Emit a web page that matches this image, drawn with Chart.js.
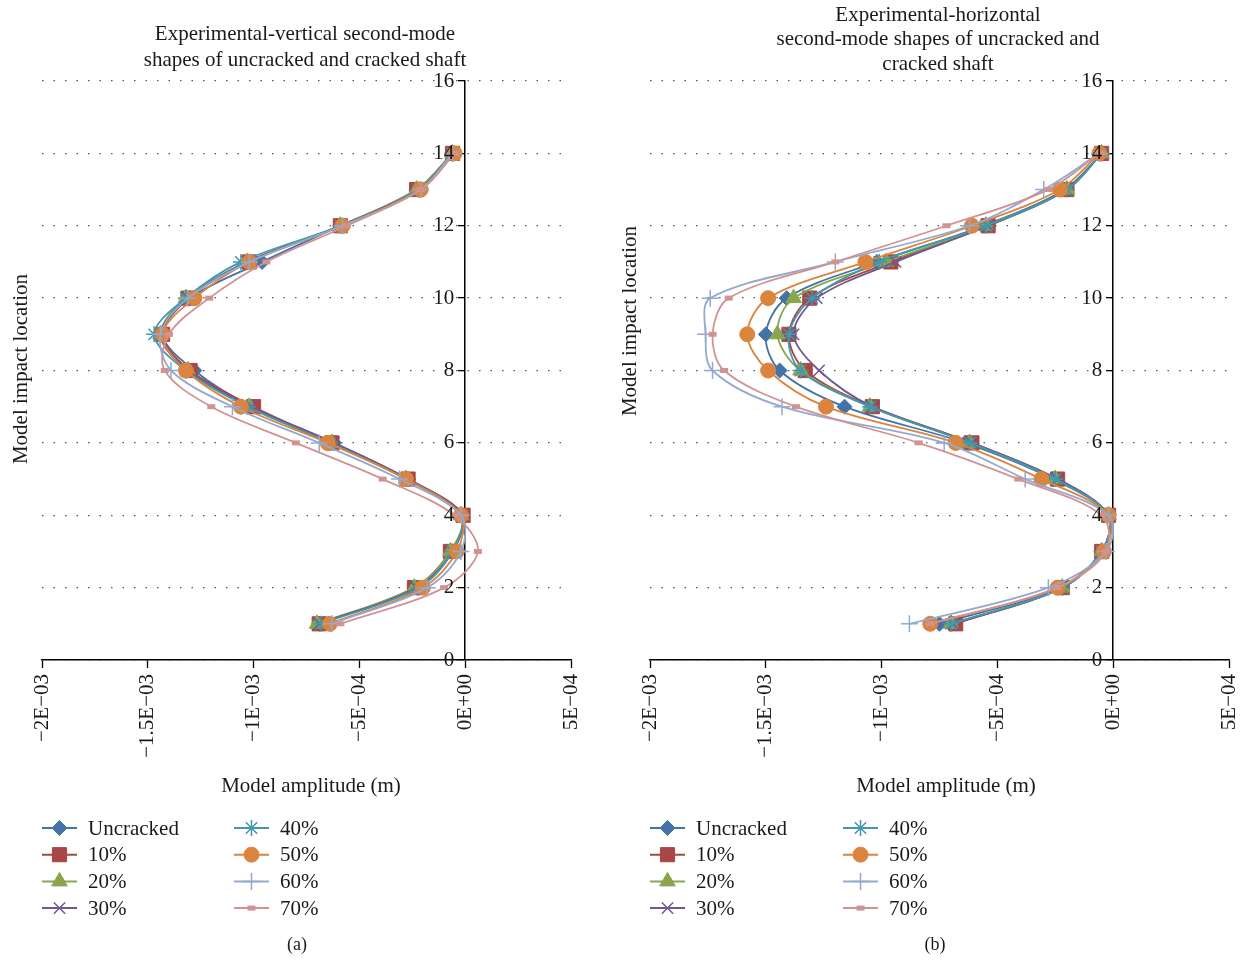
<!DOCTYPE html>
<html><head><meta charset="utf-8">
<script src="https://cdn.jsdelivr.net/npm/chart.js@4.4.1/dist/chart.umd.min.js"></script>
<style>
html,body{margin:0;padding:0;background:#fff;width:1240px;height:961px;overflow:hidden;}
#wrapA{position:absolute;left:0;top:0;width:610px;height:961px;}
#wrapB{position:absolute;left:610px;top:0;width:630px;height:961px;}
</style></head>
<body>
<div id="wrapA"><canvas id="cA"></canvas></div>
<div id="wrapB"><canvas id="cB"></canvas></div>
<script>
// ---- data ----
const locations = [1, 2, 3, 4, 5, 6, 7, 8, 9, 10, 11, 12, 13, 14];
const seriesNames = ['Uncracked', '10%', '20%', '30%', '40%', '50%', '60%', '70%'];
const xTickValues = [-2e-3, -1.5e-3, -1e-3, -5e-4, 0, 5e-4];
const xTickLabels = ['\u22122E\u221203', '\u22121.5E\u221203', '\u22121E\u221203', '\u22125E\u221204', '0E+00', '5E\u221204'];
const yTickValues = [0, 2, 4, 6, 8, 10, 12, 14, 16];
const yTickLabels = ['0', '2', '4', '6', '8', '10', '12', '14', '16'];

// (a) vertical, amplitude (m) at locations 1..14
const vUncracked = [-0.69e-3, -0.23e-3, -0.06e-3, -0.015e-3, -0.27e-3, -0.62e-3, -1.01e-3, -1.28e-3, -1.43e-3, -1.30e-3, -0.96e-3, -0.59e-3, -0.22e-3, -0.06e-3];
const v10 = [-0.69e-3, -0.24e-3, -0.07e-3, -0.01e-3, -0.27e-3, -0.63e-3, -1.00e-3, -1.30e-3, -1.43e-3, -1.31e-3, -1.02e-3, -0.59e-3, -0.23e-3, -0.06e-3];
const v20 = [-0.70e-3, -0.24e-3, -0.07e-3, -0.02e-3, -0.28e-3, -0.63e-3, -1.02e-3, -1.31e-3, -1.44e-3, -1.32e-3, -1.03e-3, -0.59e-3, -0.23e-3, -0.06e-3];
const v30 = [-0.69e-3, -0.23e-3, -0.06e-3, -0.02e-3, -0.27e-3, -0.62e-3, -1.01e-3, -1.31e-3, -1.44e-3, -1.31e-3, -1.03e-3, -0.59e-3, -0.22e-3, -0.06e-3];
const v40 = [-0.68e-3, -0.22e-3, -0.06e-3, -0.02e-3, -0.28e-3, -0.64e-3, -1.03e-3, -1.32e-3, -1.47e-3, -1.32e-3, -1.06e-3, -0.59e-3, -0.22e-3, -0.06e-3];
const v50 = [-0.64e-3, -0.20e-3, -0.04e-3, -0.02e-3, -0.28e-3, -0.65e-3, -1.06e-3, -1.32e-3, -1.43e-3, -1.28e-3, -1.02e-3, -0.58e-3, -0.21e-3, -0.05e-3];
const v60 = [-0.63e-3, -0.18e-3, -0.02e-3, -0.02e-3, -0.31e-3, -0.69e-3, -1.10e-3, -1.39e-3, -1.44e-3, -1.31e-3, -1.02e-3, -0.58e-3, -0.21e-3, -0.06e-3];
const v70 = [-0.59e-3, -0.10e-3, 0.06e-3, -0.05e-3, -0.39e-3, -0.80e-3, -1.20e-3, -1.42e-3, -1.40e-3, -1.21e-3, -0.94e-3, -0.56e-3, -0.21e-3, -0.05e-3];

// (b) horizontal
const hUncracked = [-0.75e-3, -0.23e-3, -0.05e-3, -0.02e-3, -0.26e-3, -0.64e-3, -1.16e-3, -1.44e-3, -1.50e-3, -1.41e-3, -1.02e-3, -0.56e-3, -0.21e-3, -0.05e-3];
const h10 = [-0.68e-3, -0.22e-3, -0.05e-3, -0.02e-3, -0.24e-3, -0.61e-3, -1.04e-3, -1.33e-3, -1.40e-3, -1.31e-3, -0.96e-3, -0.54e-3, -0.20e-3, -0.05e-3];
const h20 = [-0.70e-3, -0.22e-3, -0.05e-3, -0.02e-3, -0.25e-3, -0.62e-3, -1.05e-3, -1.35e-3, -1.45e-3, -1.38e-3, -0.98e-3, -0.55e-3, -0.20e-3, -0.05e-3];
const h30 = [-0.69e-3, -0.22e-3, -0.05e-3, -0.02e-3, -0.24e-3, -0.61e-3, -1.04e-3, -1.27e-3, -1.38e-3, -1.28e-3, -0.94e-3, -0.54e-3, -0.20e-3, -0.05e-3];
const h40 = [-0.70e-3, -0.22e-3, -0.05e-3, -0.02e-3, -0.25e-3, -0.62e-3, -1.05e-3, -1.35e-3, -1.40e-3, -1.30e-3, -1.01e-3, -0.55e-3, -0.20e-3, -0.05e-3];
const h50 = [-0.79e-3, -0.24e-3, -0.04e-3, -0.02e-3, -0.31e-3, -0.68e-3, -1.24e-3, -1.49e-3, -1.58e-3, -1.49e-3, -1.07e-3, -0.61e-3, -0.23e-3, -0.06e-3];
const h60 = [-0.88e-3, -0.28e-3, -0.03e-3, -0.02e-3, -0.38e-3, -0.73e-3, -1.43e-3, -1.73e-3, -1.76e-3, -1.74e-3, -1.20e-3, -0.62e-3, -0.30e-3, -0.06e-3];
const h70 = [-0.79e-3, -0.24e-3, -0.03e-3, -0.05e-3, -0.41e-3, -0.84e-3, -1.37e-3, -1.68e-3, -1.73e-3, -1.66e-3, -1.20e-3, -0.72e-3, -0.28e-3, -0.06e-3];

const xTitle = 'Model amplitude (m)';
const yTitle = 'Model impact location';
const titleA = ['Experimental-vertical second-mode', 'shapes of uncracked and cracked shaft'];
const titleB = ['Experimental-horizontal', 'second-mode shapes of uncracked and', 'cracked shaft'];

// ---- styles ----
const colors = ['#4572A7', '#AA4643', '#89A54E', '#71588F', '#4198AF', '#DB843D', '#93A9CF', '#D19392'];
const styles = [
  {pointStyle: 'rectRot', r: 7.5, bw: 1, fill: true},
  {pointStyle: 'rect', r: 10, bw: 1, fill: true},
  {pointStyle: 'triangle', r: 9, bw: 1, fill: true},
  {pointStyle: 'crossRot', r: 8, bw: 1.5, fill: false},
  {pointStyle: 'star', r: 8, bw: 1.5, fill: false},
  {pointStyle: 'circle', r: 7.5, bw: 1, fill: true},
  {pointStyle: 'cross', r: 8.5, bw: 1.5, fill: false},
  {pointStyle: 'line', r: 4, bw: 5, fill: false}
];
const FONT = '"Liberation Serif", "Times New Roman", serif';
const TXT = '#1a1a1a';

function makeDatasets(seriesValues) {
  return seriesValues.map((vals, i) => ({
    label: seriesNames[i],
    data: locations.map((loc, k) => ({x: vals[k], y: loc})),
    borderColor: colors[i],
    backgroundColor: colors[i],
    pointBackgroundColor: colors[i],
    pointBorderColor: colors[i],
    pointStyle: styles[i].pointStyle,
    pointRadius: styles[i].r,
    pointBorderWidth: styles[i].bw,
    pointHoverRadius: styles[i].r,
    borderWidth: 1.8,
    tension: 0.33,
    fill: false,
    showLine: true,
    order: 10 - i
  }));
}

const decor = {
  id: 'decor',
  afterDraw(chart, args, o) {
    const ctx = chart.ctx;
    const xs = chart.scales.x, ys = chart.scales.y;
    ctx.save();
    ctx.fillStyle = TXT;
    ctx.font = '21px ' + FONT;
    // y tick labels, placed left of the axis line at x = 0
    ctx.textAlign = 'right';
    ctx.textBaseline = 'middle';
    const axisX = xs.getPixelForValue(0);
    yTickValues.forEach((v, i) => ctx.fillText(yTickLabels[i], axisX - 11, ys.getPixelForValue(v)));
    ctx.textAlign = 'center';
    o.title.forEach((t, i) => ctx.fillText(t, o.titleX, o.titleY[i]));
    ctx.fillText(xTitle, o.xTitleX, o.xTitleY);
    ctx.save();
    ctx.translate(o.yTitleX, o.yTitleY);
    ctx.rotate(-Math.PI / 2);
    ctx.fillText(yTitle, 0, 0);
    ctx.restore();
    // legend
    chart.data.datasets.forEach((ds, i) => {
      const col = Math.floor(i / 4), row = i % 4;
      const lx = o.legX[col], ly = o.legY0 + row * o.legDY;
      ctx.save();
      ctx.strokeStyle = ds.borderColor;
      ctx.lineWidth = 2;
      ctx.beginPath();
      ctx.moveTo(lx, ly); ctx.lineTo(lx + 35, ly);
      ctx.stroke();
      ctx.fillStyle = ds.pointBackgroundColor;
      ctx.strokeStyle = ds.pointBorderColor;
      ctx.lineWidth = ds.pointBorderWidth;
      Chart.helpers.drawPoint(ctx, {pointStyle: ds.pointStyle, radius: ds.pointRadius, borderWidth: ds.pointBorderWidth, rotation: 0}, lx + 17.5, ly);
      ctx.restore();
      ctx.textAlign = 'left';
      ctx.fillStyle = TXT;
      ctx.font = '21px ' + FONT;
      ctx.fillText(ds.label, lx + 46, ly + 1);
    });
    ctx.textAlign = 'center';
    ctx.font = '18px ' + FONT;
    ctx.fillText(o.caption, o.capX, o.capY);
    ctx.restore();
  }
};

function makeChart(id, seriesValues, area, canvasW, deco) {
  const canvas = document.getElementById(id);
  canvas.width = canvasW; canvas.height = 961;
  canvas.style.width = canvasW + 'px'; canvas.style.height = '961px';
  const xAxisH = 120;
  return new Chart(canvas, {
    type: 'line',
    data: {datasets: makeDatasets(seriesValues)},
    plugins: [decor],
    options: {
      responsive: false,
      animation: false,
      devicePixelRatio: 1,
      layout: {padding: {left: area.left, right: canvasW - area.right, top: area.top, bottom: 961 - area.bottom - xAxisH}},
      plugins: {legend: {display: false}, title: {display: false}, tooltip: {enabled: false}, decor: deco},
      scales: {
        x: {
          type: 'linear',
          position: 'bottom',
          min: -2e-3, max: 5e-4,
          afterBuildTicks: s => { s.ticks = xTickValues.map(v => ({value: v})); },
          afterFit: s => { s.height = xAxisH; s.paddingLeft = 0; s.paddingRight = 0; },
          ticks: {
            autoSkip: false, minRotation: 90, maxRotation: 90, padding: 6,
            color: TXT, font: {family: FONT, size: 21},
            callback: (v, i) => xTickLabels[i]
          },
          grid: {display: true, drawOnChartArea: false, drawTicks: true, tickLength: 8, tickColor: '#000', tickWidth: 1.3},
          border: {display: true, color: '#000', width: 1.5}
        },
        y: {
          type: 'linear',
          position: {x: 0},
          min: 0, max: 16,
          afterBuildTicks: s => { s.ticks = yTickValues.map(v => ({value: v})); },
          afterFit: s => { s.width = 0; s.paddingTop = 0; s.paddingBottom = 0; },
          ticks: {display: false},
          grid: {display: true, drawOnChartArea: true, color: '#555', lineWidth: 1.3, drawTicks: true, tickLength: 6, tickColor: '#000', tickWidth: 1.3, tickBorderDash: []},
          border: {display: true, color: '#000', width: 1.5, dash: [1.5, 10]}
        }
      }
    }
  });
}

makeChart('cA', [vUncracked, v10, v20, v30, v40, v50, v60, v70],
  {left: 42, right: 571, top: 81, bottom: 660}, 610,
  {title: titleA, titleX: 305, titleY: [34, 60], xTitleX: 311, xTitleY: 786, yTitleX: 21, yTitleY: 369,
   legX: [42, 234], legY0: 828, legDY: 26.7, caption: '(a)', capX: 297, capY: 945});

makeChart('cB', [hUncracked, h10, h20, h30, h40, h50, h60, h70],
  {left: 40, right: 623, top: 81, bottom: 660}, 630,
  {title: titleB, titleX: 328, titleY: [15, 39, 64], xTitleX: 336, xTitleY: 786, yTitleX: 20, yTitleY: 321,
   legX: [40, 233], legY0: 828, legDY: 26.7, caption: '(b)', capX: 325, capY: 945});
</script>
</body></html>
